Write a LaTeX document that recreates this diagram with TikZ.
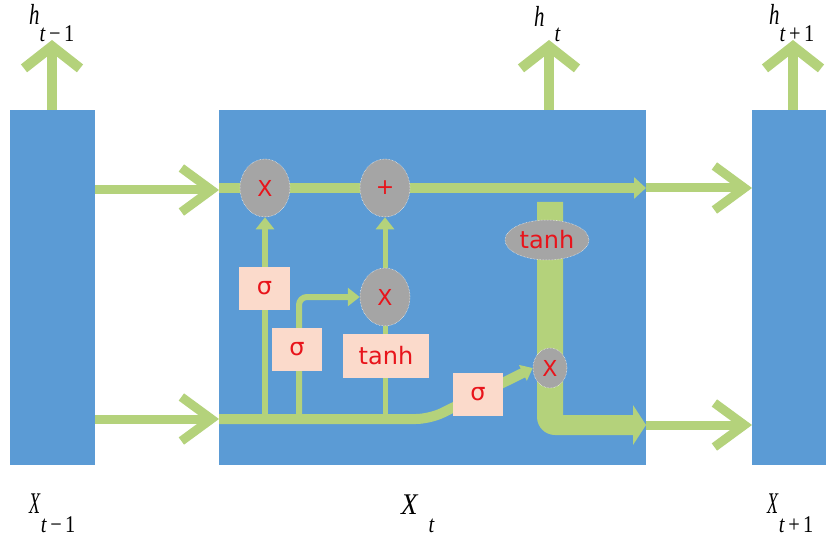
\documentclass[tikz,border=0pt]{standalone}
\usepackage{fontspec}
\setmainfont{Liberation Serif}
\newfontfamily\boxfont{DejaVu Sans}
\usetikzlibrary{arrows.meta,shapes.geometric}
\definecolor{blk}{HTML}{5B9BD5}
\definecolor{grn}{HTML}{B4D27B}
\definecolor{gry}{HTML}{A5A5A5}
\definecolor{pch}{HTML}{FBDACB}
\definecolor{rd}{HTML}{E8141B}
\pgfdeclarelayer{bg}
\pgfdeclarelayer{lines}
\pgfsetlayers{bg,lines,main}
\newcommand{\lblbase}[1]{\scalebox{0.72}[1]{\fontsize{29}{29}\selectfont\textit{#1}}}
\newcommand{\lblsub}[1]{\scalebox{0.85}[1]{\fontsize{24}{24}\selectfont #1}}
\begin{document}
\begin{tikzpicture}[x=1pt,y=-1pt,
  block/.style={rectangle, fill=blk, draw=none, anchor=north west, inner sep=0},
  gate/.style={ellipse, fill=gry, draw=white, densely dotted, line width=0.5pt, inner sep=0,
    minimum width=50pt, minimum height=58pt, text=rd, font=\boxfont\fontsize{22}{22}\selectfont},
  actbox/.style={rectangle, fill=pch, draw=none, text=rd, inner sep=0,
    minimum width=50pt, minimum height=43pt, font=\boxfont\fontsize{24}{24}\selectfont},
  outarrow/.style={draw=grn, line width=9pt, -{Straight Barb[length=30pt,width=44pt,line width=9pt]}},
  uparrow/.style={draw=grn, line width=10pt, -{Straight Barb[length=22pt,width=56pt,line width=10pt]}},
  flow/.style={draw=grn, line width=10pt},
  thin/.style={draw=grn, line width=6pt},
  tri/.style={-{Triangle[length=12pt,width=18pt]}},
  lbl/.style={inner sep=0, anchor=base west}]
\useasboundingbox (0,0) rectangle (826,537);

\begin{pgfonlayer}{bg}
  \fill[white] (0,0) rectangle (826,537);
  \node[block, minimum width=85pt, minimum height=355pt] (L) at (10,110) {};
  \node[block, minimum width=427pt, minimum height=355pt] (C) at (219,110) {};
  \node[block, minimum width=74pt, minimum height=355pt] (R) at (752,110) {};
\end{pgfonlayer}

% gates and activation boxes
\node[gate] (x1) at (265,188) {X};
\node[gate] (plus) at (385,188) {+};
\node[gate] (x2) at (385,297) {X};
\node[gate, minimum width=84pt, minimum height=40pt, font=\boxfont\fontsize{24}{24}\selectfont] (th) at (547,240) {tanh};
\node[gate, minimum width=34pt, minimum height=40pt] (x3) at (550,368) {X};
\node[actbox, minimum width=51pt] (s1) at (264.5,288.5) {σ};
\node[actbox] (s2) at (297,349.5) {σ};
\node[actbox, minimum width=86pt, minimum height=44pt] (tb) at (386,356) {tanh};
\node[actbox] (s3) at (478,394.5) {σ};

% coordinates
\coordinate (ti) at (219,188);
\coordinate (to) at (646,188);
\coordinate (bi) at (219,419);
\coordinate (bb) at (646,425);
\coordinate (b1) at (265,419);
\coordinate (b2) at (299,419);
\coordinate (b2c) at (299,297);
\coordinate (b3) at (385,419);
\coordinate (bend) at (430,419);
\coordinate (tl) at (52,40);
\coordinate (tc) at (549,40);
\coordinate (tr) at (793,40);

\begin{pgfonlayer}{lines}
  % cell state line
  \draw[flow, -{Triangle[length=12pt,width=21pt]}] (ti) -- (to);
  % input line to output gate
  \draw[draw=grn, line width=10pt, rounded corners=14pt, -{Triangle[length=11pt,width=17pt]}] (bi) -- (bend) -- (x3.west);
  % forget gate
  \draw[thin, tri] (b1) -- (x1.south);
  % input gate
  \draw[thin, rounded corners=8pt, tri] (b2) -- (b2c) -- (x2.west);
  % candidate
  \draw[thin, line width=5pt] (b3) -- (x2.south);
  \draw[thin, line width=5pt, tri] (x2.north) -- (plus.south);
  % thick output path
  \fill[grn] (537,202) -- (563,202) -- (563,415) -- (633,415) -- (633,405) -- (646,425)
     -- (633,445) -- (633,435) [rounded corners=18pt] -- (537,435) [sharp corners] -- (537,202) -- cycle;
\end{pgfonlayer}

% outer arrows
\draw[outarrow] (L.east |- 0,190) -- (ti |- 0,190);
\draw[outarrow] (L.east |- bi) -- (bi);
\draw[outarrow] (to) -- (R.west |- to);
\draw[outarrow] (bb) -- (R.west |- bb);
\draw[uparrow] (L.north -| tl) -- (tl);
\draw[uparrow] (C.north -| tc) -- (tc);
\draw[uparrow] (R.north -| tr) -- (tr);

% labels
\node[lbl] (lh1) at (29,25) {\lblbase{h}\raisebox{-17pt}{\lblsub{\textit{t}\,−\,1}}};
\node[lbl] (lh2) at (534,27) {\lblbase{h}\hspace{10pt}\raisebox{-15pt}{\lblsub{\textit{t}}}};
\node[lbl] (lh3) at (769,25) {\lblbase{h}\raisebox{-17pt}{\lblsub{\textit{t}\,+\,1}}};
\node[lbl] (lx1) at (29,513) {\scalebox{0.6}[1]{\fontsize{30}{30}\selectfont\textit{X}}\raisebox{-19pt}{\lblsub{\textit{t}\,−\,1}}};
\node[lbl] (lx2) at (401,514) {\scalebox{0.9}[1]{\fontsize{30}{30}\selectfont\textit{X}}\hspace{10pt}\raisebox{-18pt}{\lblsub{\textit{t}}}};
\node[lbl] (lx3) at (767,513) {\scalebox{0.6}[1]{\fontsize{30}{30}\selectfont\textit{X}}\raisebox{-19pt}{\lblsub{\textit{t}\,+\,1}}};
\end{tikzpicture}
\end{document}
